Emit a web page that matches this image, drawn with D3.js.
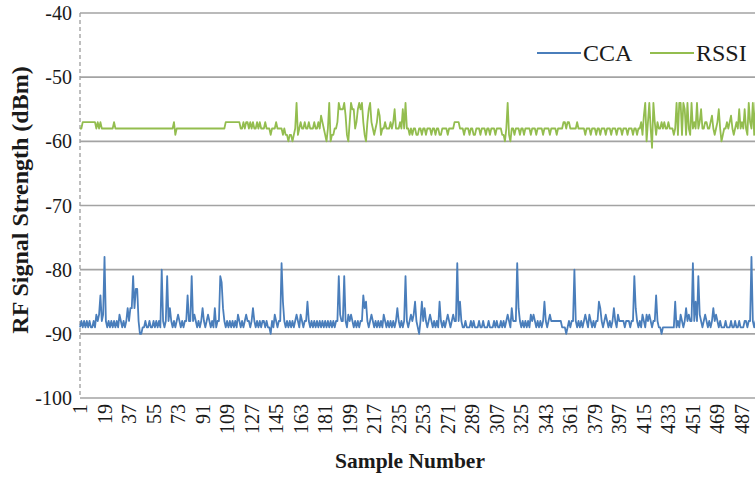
<!DOCTYPE html>
<html>
<head>
<meta charset="utf-8">
<script src="https://cdn.jsdelivr.net/npm/d3@7"></script>
<style>
html,body{margin:0;padding:0;background:#fff;}
svg{display:block;}
</style>
</head>
<body>
<svg id="chart" width="755" height="477" font-family="'Liberation Serif', 'DejaVu Serif', 'Times New Roman', Times, serif"></svg>
<script>
// ---- data ----
const seriesNames = ["CCA", "RSSI"];
const yTicks = [-100, -90, -80, -70, -60, -50, -40];
const xTickLabels = [1,19,37,55,73,91,109,127,145,163,181,199,217,235,253,271,289,307,325,343,361,379,397,415,433,451,469,487];

const cca = [
-89,-88,-89,-88,-89,-88,-89,-88,-89,-89,-88,-89,-87,-88,-87,-84,-88,-87,-78,-88,
-89,-88,-89,-88,-89,-88,-89,-88,-89,-87,-88,-89,-88,-89,-88,-86,-88,-86,-86,-81,
-86,-83,-83,-88,-90,-90,-89,-89,-88,-89,-89,-88,-89,-89,-88,-89,-88,-89,-88,-89,
-80,-88,-89,-88,-81,-88,-86,-88,-89,-88,-89,-88,-87,-88,-89,-88,-89,-88,-88,-84,
-88,-88,-81,-88,-87,-88,-89,-88,-89,-88,-86,-88,-89,-88,-87,-88,-89,-88,-89,-86,
-89,-88,-88,-81,-82,-86,-88,-89,-88,-89,-88,-89,-88,-89,-88,-89,-87,-88,-89,-88,
-89,-88,-87,-88,-88,-89,-88,-86,-88,-89,-88,-89,-88,-89,-88,-88,-89,-88,-89,-89,
-90,-88,-89,-87,-88,-89,-88,-88,-79,-85,-88,-89,-88,-89,-88,-89,-88,-89,-88,-87,
-88,-89,-87,-88,-89,-88,-88,-85,-88,-89,-88,-89,-88,-89,-88,-89,-88,-89,-88,-89,
-88,-89,-88,-89,-88,-89,-88,-89,-88,-88,-81,-87,-88,-88,-81,-88,-89,-87,-88,-87,
-88,-89,-88,-89,-88,-89,-88,-88,-84,-86,-85,-88,-89,-88,-87,-88,-89,-88,-89,-88,
-89,-88,-89,-87,-88,-89,-88,-89,-88,-89,-88,-89,-88,-86,-88,-89,-88,-89,-88,-81,
-88,-89,-88,-87,-88,-87,-85,-88,-89,-90,-88,-85,-88,-86,-88,-89,-88,-87,-88,-89,
-88,-89,-88,-89,-85,-88,-89,-88,-89,-88,-87,-88,-89,-88,-87,-88,-88,-79,-88,-85,
-88,-89,-89,-88,-89,-89,-89,-88,-89,-88,-89,-89,-89,-88,-89,-89,-88,-89,-89,-89,
-88,-89,-89,-89,-88,-89,-88,-89,-89,-88,-89,-88,-89,-88,-87,-88,-89,-86,-88,-88,
-88,-79,-86,-88,-89,-88,-89,-88,-89,-88,-89,-87,-88,-87,-88,-89,-88,-89,-88,-89,
-88,-85,-88,-89,-88,-87,-88,-88,-88,-88,-88,-88,-88,-88,-89,-89,-89,-90,-89,-88,
-89,-88,-88,-80,-88,-89,-88,-89,-88,-89,-88,-87,-88,-89,-87,-88,-89,-88,-89,-88,
-88,-85,-86,-88,-89,-88,-87,-88,-89,-88,-89,-88,-86,-88,-89,-87,-88,-88,-88,-88,
-89,-88,-88,-88,-89,-88,-88,-81,-86,-88,-89,-88,-89,-87,-88,-89,-87,-88,-87,-88,
-89,-88,-88,-84,-88,-89,-89,-90,-89,-89,-89,-89,-89,-89,-89,-89,-89,-85,-89,-88,
-89,-87,-88,-89,-88,-86,-88,-87,-88,-88,-79,-88,-85,-88,-81,-87,-88,-89,-88,-87,
-88,-89,-88,-89,-88,-86,-88,-87,-88,-89,-88,-89,-89,-89,-88,-89,-89,-89,-88,-89,
-89,-88,-89,-89,-88,-89,-89,-89,-88,-88,-89,-88,-88,-78,-88,-89,-88,-89,-88,-89
];

const rssi = [
-58,-58,-57,-57,-57,-57,-57,-57,-57,-57,-57,-57,-58,-57,-58,-57,-58,-58,-58,-58,
-58,-58,-58,-58,-58,-57,-58,-58,-58,-58,-58,-58,-58,-58,-58,-58,-58,-58,-58,-58,
-58,-58,-58,-58,-58,-58,-58,-58,-58,-58,-58,-58,-58,-58,-58,-58,-58,-58,-58,-58,
-58,-58,-58,-58,-58,-58,-58,-58,-58,-57,-59,-58,-58,-58,-58,-58,-58,-58,-58,-58,
-58,-58,-58,-58,-58,-58,-58,-58,-58,-58,-58,-58,-58,-58,-58,-58,-58,-58,-58,-58,
-58,-58,-58,-58,-58,-58,-58,-57,-57,-57,-57,-57,-57,-57,-57,-57,-57,-57,-58,-58,
-57,-58,-57,-57,-58,-57,-58,-57,-58,-58,-57,-58,-57,-58,-58,-58,-57,-58,-58,-58,
-59,-58,-58,-58,-57,-58,-58,-58,-58,-59,-58,-59,-59,-60,-59,-59,-60,-59,-58,-54,
-59,-58,-57,-58,-58,-57,-58,-58,-57,-58,-58,-58,-57,-58,-58,-57,-58,-56,-57,-58,
-59,-60,-58,-54,-60,-59,-59,-58,-58,-57,-54,-55,-55,-55,-54,-56,-59,-60,-57,-54,
-55,-55,-58,-57,-55,-54,-55,-54,-57,-59,-60,-57,-55,-54,-57,-58,-59,-58,-57,-55,
-56,-59,-58,-58,-57,-58,-58,-58,-57,-58,-57,-55,-58,-58,-58,-57,-58,-55,-58,-54,
-58,-58,-59,-58,-59,-58,-58,-59,-59,-58,-58,-59,-58,-58,-59,-58,-58,-58,-59,-58,
-58,-59,-58,-58,-59,-59,-58,-58,-58,-58,-59,-58,-58,-58,-58,-57,-57,-57,-57,-58,
-58,-58,-59,-58,-58,-58,-59,-58,-58,-59,-59,-58,-58,-58,-59,-58,-58,-58,-59,-58,
-58,-59,-58,-58,-58,-59,-58,-58,-58,-58,-59,-59,-60,-58,-54,-59,-60,-58,-58,-59,
-58,-58,-58,-59,-58,-58,-59,-58,-58,-58,-58,-59,-58,-58,-58,-59,-58,-58,-58,-58,
-59,-58,-58,-58,-58,-59,-58,-58,-58,-58,-59,-58,-58,-58,-58,-57,-57,-58,-57,-57,
-58,-58,-58,-58,-58,-57,-58,-58,-58,-58,-58,-59,-58,-58,-58,-59,-58,-58,-58,-59,
-58,-58,-59,-58,-58,-58,-59,-58,-58,-58,-59,-58,-58,-58,-59,-58,-58,-58,-59,-58,
-58,-58,-59,-58,-58,-58,-59,-58,-58,-59,-58,-58,-57,-59,-56,-54,-60,-57,-54,-58,
-61,-54,-57,-59,-57,-58,-58,-57,-58,-57,-58,-58,-57,-58,-58,-58,-59,-58,-54,-59,
-54,-54,-59,-54,-55,-59,-54,-58,-59,-54,-58,-57,-58,-54,-58,-57,-55,-58,-58,-57,
-57,-58,-58,-57,-56,-58,-59,-58,-57,-55,-58,-60,-59,-58,-58,-57,-58,-57,-56,-58,
-59,-58,-57,-58,-55,-58,-57,-58,-55,-58,-59,-54,-57,-58,-54,-59,-54,-54,-55,-54
];

const colors = {CCA: "#4a7ebb", RSSI: "#93bd4f"};

// ---- chart ----
(function () {
  const svg = d3.select("#chart");
  const textColor = "#1a1a1a";
  const pL = 80, pT = 13, pB = 398, pR = 760;
  const nPts = cca.length;
  const step = 1.362;
  const x = d3.scaleLinear().domain([1, nPts]).range([pL, pL + (nPts - 1) * step]);
  const y = d3.scaleLinear().domain([-100, -40]).range([pB, pT]);

  // grid lines
  svg.append("g").selectAll("line").data(yTicks).join("line")
    .attr("x1", pL).attr("x2", pR)
    .attr("y1", d => y(d)).attr("y2", d => y(d))
    .attr("stroke", "#a3a3a3").attr("stroke-width", 1.6);

  // left dashed axis
  svg.append("line").attr("x1", pL).attr("x2", pL).attr("y1", pT).attr("y2", pB)
    .attr("stroke", "#a3a3a3").attr("stroke-width", 1.4).attr("stroke-dasharray", "4,3");

  // y tick labels
  svg.append("g").selectAll("text").data(yTicks).join("text")
    .attr("x", 72).attr("y", d => y(d) + 7)
    .attr("text-anchor", "end").attr("font-size", 20).attr("fill", textColor)
    .text(d => d);

  // x tick labels (rotated)
  svg.append("g").selectAll("text").data(xTickLabels).join("text")
    .attr("transform", d => `translate(${x(d) + 7},404) rotate(-90)`)
    .attr("text-anchor", "end").attr("font-size", 20).attr("fill", textColor)
    .text(d => d);

  // axis titles
  svg.append("text").attr("transform", "translate(28,200) rotate(-90)")
    .attr("text-anchor", "middle").attr("font-size", 24).attr("font-weight", "bold")
    .attr("fill", textColor)
    .text("RF Signal Strength (dBm)");
  svg.append("text").attr("x", 410).attr("y", 468)
    .attr("text-anchor", "middle").attr("font-size", 21.5).attr("font-weight", "bold")
    .attr("fill", textColor)
    .text("Sample Number");

  // lines
  const line = d3.line().x((d, i) => x(i + 1)).y(d => y(d));
  const data = {CCA: cca, RSSI: rssi};
  seriesNames.forEach(name => {
    svg.append("path").datum(data[name])
      .attr("d", line)
      .attr("fill", "none")
      .attr("stroke", colors[name])
      .attr("stroke-width", 1.8)
      .attr("stroke-linejoin", "round");
  });

  // legend
  const legendItems = [{name: "CCA", x: 537}, {name: "RSSI", x: 650}];
  const lg = svg.append("g").selectAll("g").data(legendItems).join("g");
  lg.append("line").attr("x1", d => d.x).attr("x2", d => d.x + 44)
    .attr("y1", 53).attr("y2", 53)
    .attr("stroke", d => colors[d.name]).attr("stroke-width", 2);
  lg.append("text").attr("x", d => d.x + 46).attr("y", 61)
    .attr("font-size", 24).attr("fill", textColor).text(d => d.name);
})();
</script>
</body>
</html>
